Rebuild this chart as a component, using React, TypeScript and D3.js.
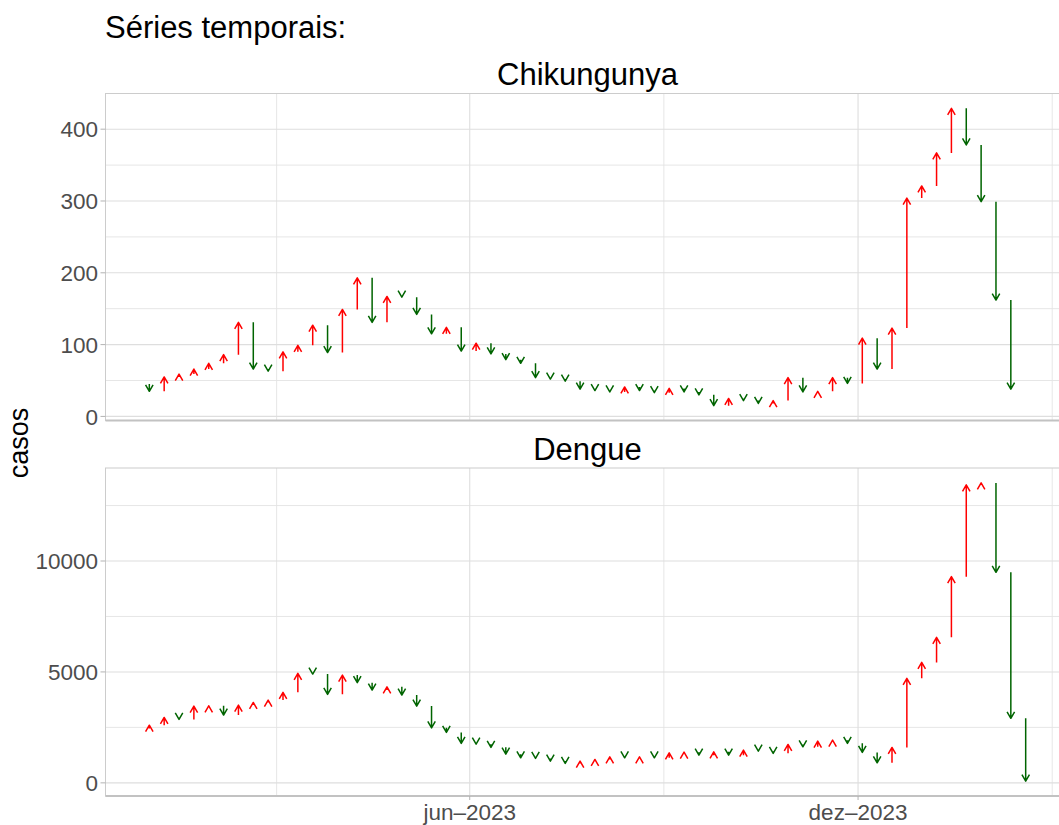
import React from 'react';
import * as d3 from 'd3';

// weekly series, each value is the count of the week; the arrow goes from the previous week
const firstWeek = '2023-01-01';

const chikPrev = 45;
const chikCases = [
  35, 55, 59, 66, 74, 86, 131, 66, 63, 90, 99, 127, 89, 149, 193, 131, 167, 166, 142, 115,
  124, 91, 102, 87, 79, 74, 54, 52, 49, 38, 36, 34, 41, 36, 33, 39, 34, 30, 15, 25,
  22, 18, 22, 54, 34, 35, 54, 46, 109, 66, 123, 304, 321, 367, 429, 378, 299, 162, 38,
];

const denguePrev = 2450;
const dengueCases = [
  2600, 2950, 2860, 3460, 3475, 3055, 3505, 3625, 3730, 4080, 4935, 4905, 3990, 4860, 4515, 4185, 4330, 3960, 3460, 2480,
  2275, 1780, 1745, 1600, 1295, 1130, 1100, 980, 875, 980, 1055, 1170, 1130, 1170, 1130, 1355, 1385, 1250, 1400, 1250,
  1475, 1430, 1330, 1730, 1625, 1880, 1925, 1780, 1370, 905, 1595, 4710, 5430, 6560, 9295, 13430, 13520, 9490, 2910, 80,
];

const chikTicks = [0, 100, 200, 300, 400];
const dengueTicks = [0, 5000, 10000];
const xTickDates = ['2022-12-01', '2023-06-01', '2023-12-01', '2024-06-01'];
const xTickLabels = ['dez–2022', 'jun–2023', 'dez–2023', 'jun–2024'];

const W = 1059;
const H = 825;
const FONT = '"Liberation Sans", Arial, Helvetica, sans-serif';
const panelLeft = 105.5;
const panelRight = 1069.5;
const UP = '#ff0000';
const DOWN = '#006400';

const parse = d3.timeParse('%Y-%m-%d');
const start = parse(firstWeek) as Date;
const nWeeks = Math.max(chikCases.length, dengueCases.length);
const weeks = d3.range(nWeeks).map(i => d3.timeDay.offset(start, 7 * i));

const span = +weeks[nWeeks - 1] - +weeks[0];
const x = d3
  .scaleTime()
  .domain([new Date(+weeks[0] - 0.05 * span), new Date(+weeks[nWeeks - 1] + 0.05 * span)])
  .range([panelLeft, panelRight]);

const majorX = xTickDates.map(d => parse(d) as Date);
const minorX = d3.range(majorX.length - 1).map(i => new Date((+majorX[i] + +majorX[i + 1]) / 2));
const [dMin, dMax] = x.domain();
const inX = (d: Date) => d >= dMin && d <= dMax;

const panels = [
  { title: 'Chikungunya', prev: chikPrev, values: chikCases, ticks: chikTicks, top: 93.5, bottom: 420.5 },
  { title: 'Dengue', prev: denguePrev, values: dengueCases, ticks: dengueTicks, top: 468, bottom: 796 },
];

function Panel({ p, last }: { p: typeof panels[0]; last: boolean }) {
  const all = [p.prev, ...p.values];
  const [lo, hi] = d3.extent(all) as [number, number];
  const pad = (hi - lo) * 0.05;
  const y = d3.scaleLinear().domain([lo - pad, hi + pad]).range([p.bottom, p.top]);
  const step = p.ticks[1] - p.ticks[0];
  const minorY = d3.range(p.ticks[0] - step / 2, hi + pad + step, step).filter(v => v > lo - pad && v < hi + pad);
  const head = 7.5;
  const hw = head * Math.sin(Math.PI / 6);
  const hh = head * Math.cos(Math.PI / 6);

  return (
    <g>
      <text x={(panelLeft + panelRight) / 2} y={p.top - 8.5} textAnchor="middle" fontSize={31} fill="#000">
        {p.title}
      </text>
      {minorY.map(v => (
        <line key={'my' + v} x1={panelLeft} x2={panelRight} y1={y(v)} y2={y(v)} stroke="#e3e3e3" strokeWidth={0.9} />
      ))}
      {minorX.filter(inX).map(d => (
        <line key={'mx' + +d} x1={x(d)} x2={x(d)} y1={p.top} y2={p.bottom} stroke="#e3e3e3" strokeWidth={0.9} />
      ))}
      {p.ticks.map(v => (
        <line key={'gy' + v} x1={panelLeft} x2={panelRight} y1={y(v)} y2={y(v)} stroke="#dedede" strokeWidth={1.1} />
      ))}
      {majorX.filter(inX).map(d => (
        <line key={'gx' + +d} x1={x(d)} x2={x(d)} y1={p.top} y2={p.bottom} stroke="#dedede" strokeWidth={1.1} />
      ))}
      <rect x={panelLeft} y={p.top} width={panelRight - panelLeft} height={p.bottom - p.top} fill="none" stroke="#cccccc" strokeWidth={1} />
      <line x1={panelLeft} x2={panelRight} y1={p.bottom} y2={p.bottom} stroke="#c2c2c2" strokeWidth={2} />
      {p.ticks.map(v => (
        <g key={'ty' + v}>
          <line x1={panelLeft - 5} x2={panelLeft} y1={y(v)} y2={y(v)} stroke="#b3b3b3" strokeWidth={1} />
          <text x={panelLeft - 7.5} y={y(v)} dy="0.36em" textAnchor="end" fontSize={22.5} fill="#4d4d4d">
            {v}
          </text>
        </g>
      ))}
      {last &&
        majorX.map((d, i) =>
          inX(d) ? (
            <g key={'tx' + i}>
              <line x1={x(d)} x2={x(d)} y1={p.bottom} y2={p.bottom + 4} stroke="#b3b3b3" strokeWidth={1} />
              <text x={x(d)} y={p.bottom + 24} textAnchor="middle" fontSize={22.5} fill="#4d4d4d">
                {xTickLabels[i]}
              </text>
            </g>
          ) : null
        )}
      {p.values.map((v, i) => {
        const from = i === 0 ? p.prev : p.values[i - 1];
        if (v === from) return null;
        const up = v > from;
        const cx = x(weeks[i]);
        const y0 = y(from);
        const y1 = y(v);
        const back = up ? hh : -hh;
        const d = `M${cx},${y0}L${cx},${y1}M${cx - hw},${y1 + back}L${cx},${y1}L${cx + hw},${y1 + back}`;
        return (
          <path key={'a' + i} d={d} fill="none" stroke={up ? UP : DOWN} strokeWidth={1.5} strokeLinejoin="round" />
        );
      })}
    </g>
  );
}

export default function App(): React.ReactElement {
  return (
    <div style={{ position: 'absolute', left: 0, top: 0 }}>
      <svg width={W} height={H} style={{ display: 'block', background: '#fff', fontFamily: FONT }}>
        <text x={105} y={38} fontSize={31} fill="#000">
          Séries temporais:
        </text>
        <text transform={`translate(28,443) rotate(-90)`} textAnchor="middle" fontSize={27} fill="#000">
          casos
        </text>
        {panels.map((p, i) => (
          <Panel key={p.title} p={p} last={i === panels.length - 1} />
        ))}
      </svg>
    </div>
  );
}
